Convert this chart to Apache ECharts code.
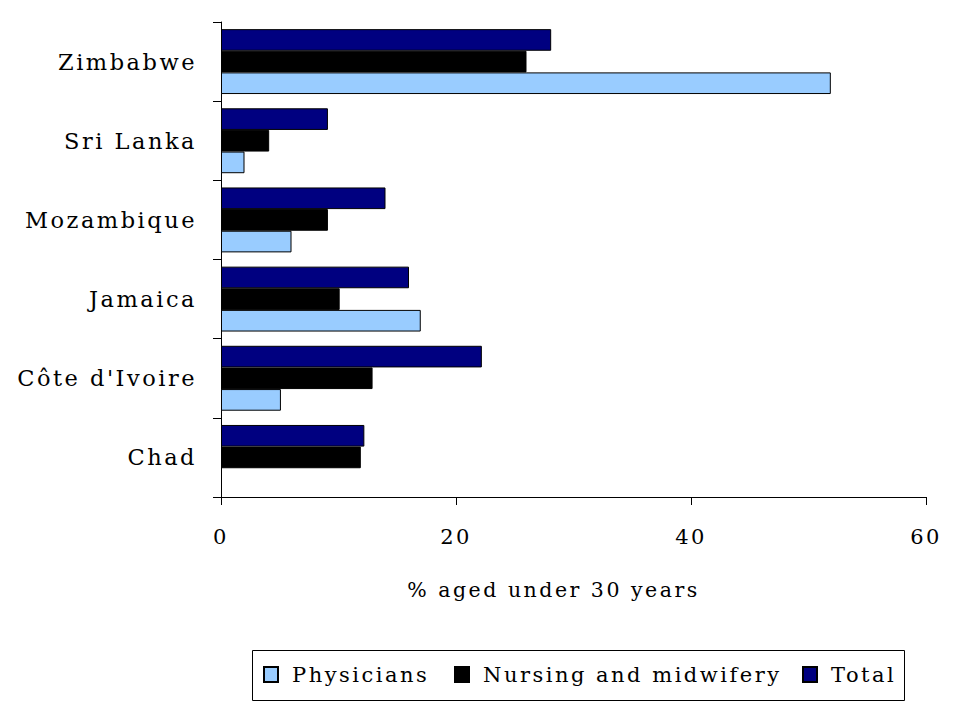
<html>
<head>
<meta charset="utf-8" />
<title>Under 30</title>
<script src="https://cdn.jsdelivr.net/npm/echarts@6/dist/echarts.min.js"></script>
<style>
  body { margin: 0; background: #fff; }
  #main { width: 960px; height: 720px; }
  /* the original type is set wide */
  #main text { letter-spacing: 2.5px; }
</style>
</head>
<body>
<div id="main"></div>
<script type="text/javascript">
var countries = ['Chad', "Côte d'Ivoire", 'Jamaica', 'Mozambique', 'Sri Lanka', 'Zimbabwe'];
var physicians = [null, 5.1, 17.0, 6.0, 2.0, 51.9];
var nursing = [11.9, 12.9, 10.1, 9.1, 4.1, 26.0];
var total = [12.2, 22.2, 16.0, 14.0, 9.1, 28.1];
var xTicks = [0, 20, 40, 60];

var font = 'DejaVu Serif';
var myChart = echarts.init(document.getElementById('main'), null, { renderer: 'svg' });

function bar(name, data, color) {
  return {
    name: name,
    type: 'bar',
    data: data,
    barGap: '0%',
    barCategoryGap: '18%',
    itemStyle: { color: color, borderColor: '#000', borderWidth: 1 }
  };
}

// one legend per item so the wide text does not overlap
function legendItem(name, left) {
  return {
    left: left, top: 664,
    padding: 0,
    itemWidth: 14, itemHeight: 15,
    icon: 'rect',
    selectedMode: false,
    textStyle: { fontFamily: font, fontSize: 21, color: '#000', padding: [0, 0, 0, 9] },
    data: [name]
  };
}

var option = {
  animation: false,
  textStyle: { fontFamily: font, color: '#000' },
  grid: { left: 221, right: 34, top: 22, bottom: 223 },
  graphic: [{
    type: 'rect',
    shape: { x: 252.5, y: 650.5, width: 652, height: 50 },
    style: { fill: 'none', stroke: '#000', lineWidth: 1 },
    z: -1
  }],
  legend: [
    legendItem('Physicians', 263),
    legendItem('Nursing and midwifery', 454),
    legendItem('Total', 802)
  ],
  xAxis: {
    type: 'value',
    min: xTicks[0], max: xTicks[xTicks.length - 1], interval: 20,
    name: '% aged under 30 years',
    nameLocation: 'middle',
    nameGap: 82,
    nameTextStyle: { fontFamily: font, fontSize: 20.5, color: '#000', padding: [0, 40, 0, 0] },
    axisLine: { show: true, lineStyle: { color: '#000' } },
    axisTick: { show: true, length: 8, lineStyle: { color: '#000' } },
    axisLabel: { fontFamily: font, fontSize: 21, color: '#000', margin: 29 },
    splitLine: { show: false }
  },
  yAxis: {
    type: 'category',
    data: countries,
    axisLine: { show: true, lineStyle: { color: '#000' } },
    axisTick: { show: true, length: 8, lineStyle: { color: '#000' } },
    axisLabel: { fontFamily: font, fontSize: 22.5, color: '#000', margin: 24 }
  },
  series: [
    bar('Total', total, '#000080'),
    bar('Nursing and midwifery', nursing, '#000000'),
    bar('Physicians', physicians, '#99ccff')
  ]
};
myChart.setOption(option);
</script>
</body>
</html>
